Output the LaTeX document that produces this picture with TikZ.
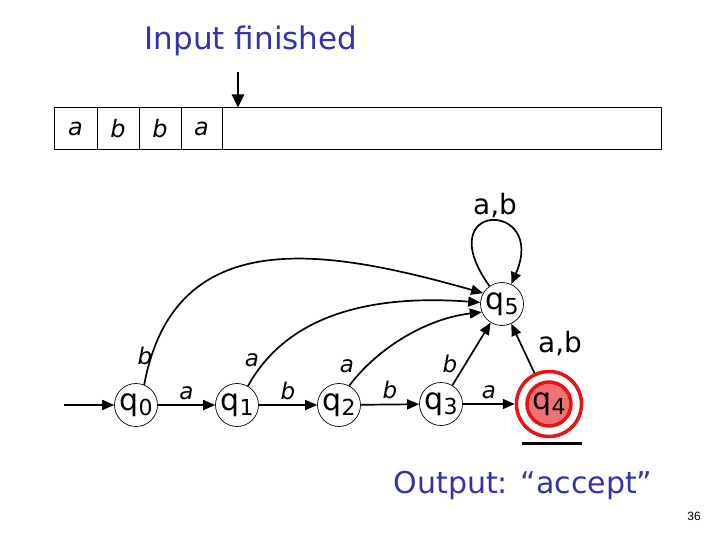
\documentclass[tikz,border=0pt]{standalone}
\usepackage{fontspec}
\setmainfont{DejaVu Sans}
\newfontfamily\numfont{Liberation Sans}
\usetikzlibrary{arrows.meta}
\definecolor{ttblue}{RGB}{51,51,170}
\definecolor{acc}{RGB}{230,20,20}
\definecolor{accfill}{RGB}{240,115,115}
\newcommand\qsub[1]{q\raisebox{-5pt}{\fontsize{22}{22}\selectfont #1}}
\begin{document}
\begin{tikzpicture}[x=1pt,y=-1pt,
  st/.style={circle,draw,line width=0.7pt,minimum size=43pt,inner sep=0pt,font=\fontsize{30}{30}\selectfont},
  tr/.style={-{Triangle[length=12pt,width=10pt]},line width=1.7pt},
  lab/.style={font=\fontsize{23}{23}\selectfont\itshape},
  lab2/.style={font=\fontsize{28}{28}\selectfont},
  cell/.style={draw,line width=1pt,minimum height=42pt,inner sep=0pt,font=\fontsize{24}{24}\selectfont\itshape},
  bluetext/.style={text=ttblue,font=\fontsize{30}{30}\selectfont}]
\useasboundingbox (0,0) rectangle (720,540);
% header
\node[bluetext,font=\fontsize{31}{31}\selectfont] (title) at (251,41) {Input finished};
% tape
\node[cell,minimum width=43pt] (c1) at (75.5,129) {a};
\node[cell,minimum width=42pt] (c2) at (118,129) {b};
\node[cell,minimum width=42pt] (c3) at (160,129) {b};
\node[cell,minimum width=41pt] (c4) at (201.5,129) {a};
\node[cell,minimum width=439pt] (rest) at (441.5,129) {};
\coordinate (head) at (238,72);
\draw[-{Triangle[length=13pt,width=12pt]},line width=2.6pt] (head) -- (head |- rest.north);
% states
\node[st] (q0) at (136,405) {\qsub{0}};
\node[st] (q1) at (237,405) {\qsub{1}};
\node[st] (q2) at (339,405) {\qsub{2}};
\node[st] (q3) at (441,404) {\qsub{3}};
\node[st] (q5) at (502,304) {\qsub{5}};
\node[circle,draw=acc,line width=3.5pt,fill=accfill,minimum size=44pt,inner sep=0pt,font=\fontsize{30}{30}\selectfont] (q4) at (549,404) {\qsub{4}};
\node[circle,draw=acc,line width=3.5pt,minimum size=65pt,inner sep=0pt] (q4o) at (549,404) {};
\coordinate (ul1) at (522,443);
\coordinate (ul2) at (582,443);
\draw[line width=3pt] (ul1) -- (ul2);
% start
\coordinate (start) at (64,405);
\draw[tr] (start) -- (q0);
% transitions
\draw[tr] (q0) -- node[lab,above=1pt] {a} (q1);
\draw[tr] (q1) -- node[lab,above=1pt] {b} (q2);
\draw[tr] (q2) -- node[lab,above=1pt] {b} (q3);
\draw[tr] (q3) -- node[lab,above=1pt] {a} (q4o);
\draw[tr] (q3) -- (q5);
\node[lab] (lb3) at (450,364) {b};
\draw[tr] (q4o) -- (q5);
\node[lab2] (lab45) at (560,343) {a,b};
\draw[tr] (q5.125) .. controls (428,200) and (548,200) .. (q5.65);
\node[lab2] (labloop) at (495,205) {a,b};
\draw[tr] (q0.68) .. controls (175,220) and (330,250) .. (q5.150);
\node[lab] (lb0) at (145,356) {b};
\draw[tr] (q1.60) .. controls (290,310) and (380,295) .. (q5.176);
\node[lab] (la1) at (252,360) {a};
\draw[tr] (q2.62) .. controls (380,345) and (430,318) .. (q5.202);
\node[lab] (la2) at (347,366) {a};
% output
\node[bluetext] (out) at (523,485) {Output: “accept”};
\node[font=\numfont\fontsize{12}{12}\selectfont] (num) at (694,516) {36};
\end{tikzpicture}
\end{document}
